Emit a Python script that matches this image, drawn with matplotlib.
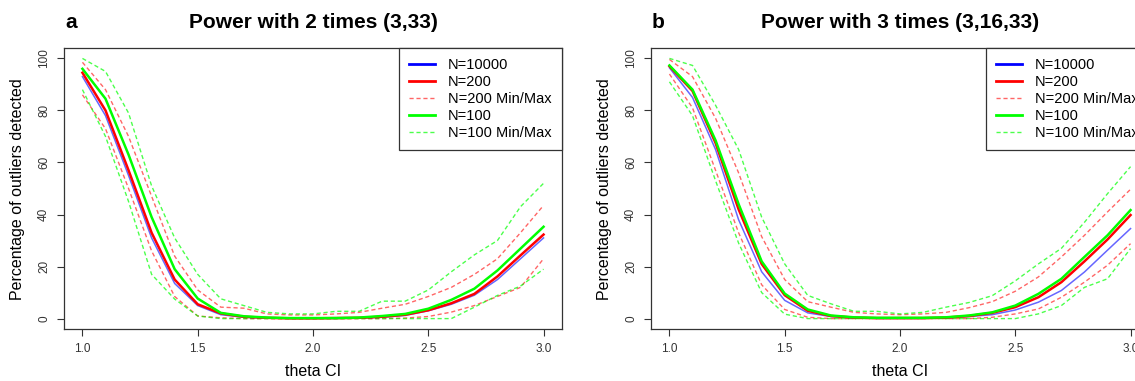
#!/usr/bin/env python
# Power curves for outlier detection: two panels, theta CI on x

import matplotlib
matplotlib.use('Agg')
import matplotlib.pyplot as plt
from matplotlib.lines import Line2D

plt.rcParams['font.family'] = ['Liberation Sans', 'DejaVu Sans']

theta = [1.0, 1.1, 1.2, 1.3, 1.4, 1.5, 1.6, 1.7, 1.8, 1.9, 2.0,
         2.1, 2.2, 2.3, 2.4, 2.5, 2.6, 2.7, 2.8, 2.9, 3.0]

# panel a: 2 times (3,33)
a_n10000 = [93, 78, 55, 31, 13.5, 5, 1.5, 0.5, 0.2, 0.1, 0.1, 0.1, 0.2, 0.5, 1.2, 3, 5.5, 9, 15, 23, 31]
a_n200 = [94.5, 80, 57, 33, 15, 5.5, 2, 0.7, 0.3, 0.1, 0.1, 0.2, 0.3, 0.7, 1.5, 3.2, 5.9, 9.5, 16.2, 24.3, 32.3]
a_n200_max = [98.5, 88, 70, 47, 24, 11, 4.4, 4, 1.8, 1.4, 1.4, 1.8, 2.4, 4, 5.5, 8.5, 12, 17, 23, 33, 43.5]
a_n200_min = [86, 73, 50, 26, 8.5, 1, 0.3, 0, 0, 0, 0, 0, 0, 0, 0.2, 0.8, 2.5, 5, 8.5, 12, 23]
a_n100 = [96, 84.5, 63, 39, 19, 7.7, 2.2, 0.9, 0.4, 0.2, 0.2, 0.2, 0.4, 1, 1.8, 3.8, 7.2, 11.5, 18.5, 26.9, 35.3]
a_n100_max = [100, 95, 79, 51, 31, 17, 7.6, 5, 2.4, 1.8, 1.8, 2.8, 2.8, 6.7, 6.7, 11, 18, 24.5, 30, 43, 52]
a_n100_min = [88, 70, 45, 17, 7.5, 1, 0, 0, 0, 0, 0, 0, 0, 0, 0, 0, 0, 4.4, 8.9, 12.5, 19]

# panel b: 3 times (3,16,33)
b_n10000 = [96.4, 85, 65, 38, 18, 7, 2.2, 0.8, 0.3, 0.1, 0.1, 0.1, 0.3, 0.8, 1.5, 3.3, 6.3, 10.8, 17.9, 26.3, 34.6]
b_n200 = [97, 87.5, 67.5, 42, 21, 9, 3, 1, 0.4, 0.2, 0.2, 0.2, 0.4, 1, 2.2, 4.4, 8.2, 14, 22, 30.4, 39.8]
b_n200_max = [99.6, 93, 77, 56, 31.5, 15, 6.5, 4.4, 2.4, 1.8, 1.5, 1.8, 2.4, 4.2, 6.5, 10.5, 16, 23.7, 32, 41, 49.7]
b_n200_min = [94, 81, 57, 33, 13, 3.5, 0.5, 0, 0, 0, 0, 0, 0, 0, 0.5, 1.8, 3.7, 8.2, 14, 20.5, 28.8]
b_n100 = [97.3, 88, 68.5, 44, 22, 9.6, 3.5, 1.2, 0.5, 0.3, 0.3, 0.3, 0.5, 1.2, 2.4, 5, 9.5, 15.3, 23.7, 32, 41.7]
b_n100_max = [100, 97.3, 82, 65, 39, 21, 8.9, 5.7, 2.8, 2.8, 1.8, 2.4, 4.4, 6.2, 8.8, 14.5, 21, 27, 37, 48, 58.4]
b_n100_min = [91, 78, 53, 29, 10, 1.7, 0, 0, 0, 0, 0, 0, 0, 0, 0, 0, 1.8, 5, 12, 15.3, 26.9]

legend_labels = ['N=10000', 'N=200', 'N=200 Min/Max', 'N=100', 'N=100 Min/Max']
xticks = [1.0, 1.5, 2.0, 2.5, 3.0]
yticks = [0, 20, 40, 60, 80, 100]

W, H = 1135, 381
fig = plt.figure(figsize=(W / 100, H / 100), dpi=100)

DASH = (0, (3, 2))
frame_col = '#333333'


def panel(left_px, letter, title, s10000, s200, s200max, s200min, s100, s100max, s100min):
    ax = fig.add_axes([left_px / W, 52 / H, 498 / W, 281 / H])
    # min/max bands first, solid lines on top
    ax.plot(theta, s200max, color='red', lw=1.0, ls=DASH, alpha=0.6)
    ax.plot(theta, s200min, color='red', lw=1.0, ls=DASH, alpha=0.6)
    ax.plot(theta, s100max, color='#00ff00', lw=1.0, ls=DASH, alpha=0.7)
    ax.plot(theta, s100min, color='#00ff00', lw=1.0, ls=DASH, alpha=0.7)
    ax.plot(theta, s10000, color='blue', lw=1.1, alpha=0.6)
    ax.plot(theta, s200, color='red', lw=1.8)
    ax.plot(theta, s100, color='#00ff00', lw=1.8)

    ax.set_xlim(0.92, 3.08)
    ax.set_ylim(-4, 104)
    ax.set_xticks(xticks)
    ax.set_xticklabels(['%.1f' % t for t in xticks])
    ax.set_yticks(yticks)
    ax.set_yticklabels([str(t) for t in yticks])
    plt.setp(ax.get_yticklabels(), rotation=90, va='center')
    ax.tick_params(direction='out', length=5, width=0.8, color=frame_col,
                   labelsize=8.5, labelcolor='#333333', pad=5)
    for sp in ax.spines.values():
        sp.set_color(frame_col)
        sp.set_linewidth(0.9)

    handles = [Line2D([], [], color='blue', lw=2),
               Line2D([], [], color='red', lw=2),
               Line2D([], [], color='red', lw=1, ls=DASH, alpha=0.6),
               Line2D([], [], color='#00ff00', lw=2),
               Line2D([], [], color='#00ff00', lw=1, ls=DASH, alpha=0.7)]
    leg = ax.legend(handles, legend_labels, loc='upper right', bbox_to_anchor=(1, 1),
                    borderaxespad=0, fancybox=False, framealpha=1, fontsize=10.5,
                    handlelength=1.8, handletextpad=0.9, labelspacing=0.2,
                    borderpad=0.7)
    leg.get_frame().set_edgecolor(frame_col)
    leg.get_frame().set_linewidth(0.9)

    cx = (left_px + 249) / W
    fig.text(cx, 1 - 23 / H, title, ha='center', va='center', fontsize=15, fontweight='bold')
    fig.text((left_px + 1) / W, 1 - 23 / H, letter, ha='left', va='center', fontsize=15, fontweight='bold')
    fig.text((left_px - 46) / W, 1 - 189 / H, 'Percentage of outliers detected',
             rotation=90, ha='center', va='center', fontsize=11.5)
    fig.text(cx, 1 - 372 / H, 'theta CI', ha='center', va='center', fontsize=11.5)
    return ax


panel(64, 'a', 'Power with 2 times (3,33)', a_n10000, a_n200, a_n200_max, a_n200_min,
      a_n100, a_n100_max, a_n100_min)
panel(651, 'b', 'Power with 3 times (3,16,33)', b_n10000, b_n200, b_n200_max, b_n200_min,
      b_n100, b_n100_max, b_n100_min)

plt.savefig('out.png', dpi=100)
